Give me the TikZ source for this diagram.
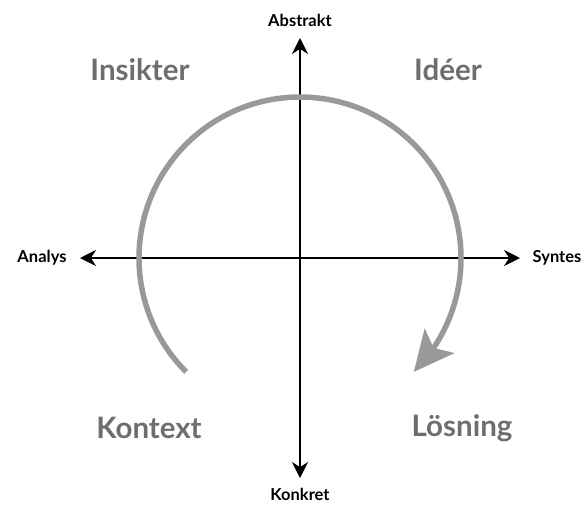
\documentclass[tikz,border=0pt]{standalone}
\usepackage{fontspec}
\setmainfont{Lato}
\usetikzlibrary{arrows.meta,bending}
\definecolor{labgray}{HTML}{6E6E6E}
\definecolor{arcgray}{HTML}{999999}
\begin{document}
\begin{tikzpicture}[x=1pt,y=-1pt,
  axis/.style={line width=2pt,black,-{Stealth[length=16pt,width=16pt]}},
  small/.style={font=\fontsize{16.5}{18}\selectfont\bfseries,text=black},
  big/.style={font=\fontsize{29.5}{34}\selectfont\bfseries,text=labgray}]
\useasboundingbox (0,0) rectangle (587,504);
\coordinate (c) at (300,258);
\coordinate (l) at (80,258);
\coordinate (r) at (520,258);
\coordinate (t) at (300,38);
\coordinate (b) at (300,478);
\draw[axis] (c) -- (l);
\draw[axis] (c) -- (r);
\draw[axis] (c) -- (t);
\draw[axis] (c) -- (b);
\draw[arcgray,line width=5.5pt,-{Stealth[length=40pt,width=38pt,inset=9pt,flex]}]
  ([shift={(225:161 and -161)}]c) arc[start angle=225,end angle=-45,x radius=161,y radius=-161];
\node[small] (abs) at (300,20) {Abstrakt};
\node[small] (kon) at (300,494) {Konkret};
\node[small] (ana) at (42,258) {Analys};
\node[small] (syn) at (557,258) {Syntes};
\node[big] (ins) at (140,70) {Insikter};
\node[big] (ide) at (448,70) {Idéer};
\node[big] (ktx) at (149,428) {Kontext};
\node[big] (los) at (462,428) {Lösning};
\end{tikzpicture}
\end{document}
